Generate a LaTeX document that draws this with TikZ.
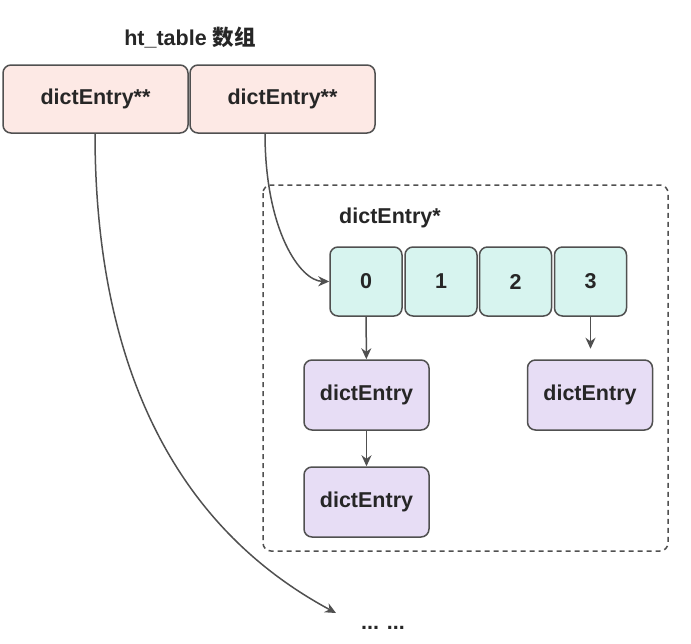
\documentclass[tikz,border=0pt]{standalone}
\usepackage{fontspec}
\setmainfont{Liberation Sans}
\newfontfamily\cjk{Noto Sans CJK SC}
\usetikzlibrary{arrows.meta}
\definecolor{pinkfill}{HTML}{FDE9E5}
\definecolor{cyanfill}{HTML}{D7F4EF}
\definecolor{purplefill}{HTML}{E7DDF5}
\definecolor{linegray}{HTML}{505050}
\tikzset{
    bigfont/.style={font=\fontsize{21.5}{25}\selectfont\bfseries,text=black!85},
    box/.style={draw=linegray,line width=1.5pt,rounded corners=8pt,inner sep=0pt,bigfont},
    ptrbox/.style={box,fill=pinkfill,minimum width=185pt,minimum height=68pt},
    slotbox/.style={box,fill=cyanfill,minimum width=72pt,minimum height=69pt},
    entrybox/.style={box,fill=purplefill,minimum width=125pt,minimum height=70pt},
    arr/.style={-{Stealth[length=11pt,width=10pt]},line width=1.5pt,draw=linegray}
}
\begin{document}
\begin{tikzpicture}[x=1pt,y=-1pt]
    \useasboundingbox (0,0) rectangle (691,643);

    % ht_table array
    \node[bigfont] (title) at (190,38) {ht\_table {\cjk 数组}};
    \node[ptrbox] (p0) at (95.5,99) {dictEntry**};
    \node[ptrbox] (p1) at (282.5,99) {dictEntry**};

    % bucket area
    \draw[linegray,line width=1.5pt,dash pattern=on 5pt off 4pt,rounded corners=8pt] (263,185) rectangle (668,551);
    \node[bigfont] (lbl) at (390,218) {dictEntry*};
    \node[slotbox] (s0) at (366,281.5) {0};
    \node[slotbox] (s1) at (441,281.5) {1};
    \node[slotbox] (s2) at (515.5,281.5) {2};
    \node[slotbox] (s3) at (590.5,281.5) {3};

    \node[entrybox] (e0) at (366.5,395) {dictEntry};
    \node[entrybox] (e1) at (366.5,502) {dictEntry};
    \node[entrybox] (e3) at (590,395) {dictEntry};

    \draw[arr] (s0) -- (e0);
    \draw[arr] (e0) -- (e1);
    \draw[arr] (s3.south) -- ++(0,32);
    \draw[arr] (265,133) .. controls (265,230) and (300,281) .. (s0.west);

    % rest of the buckets
    \node[bigfont] (more) at (383,628) {... ...};
    \coordinate (moreend) at (336,613);
    \draw[arr] (95,133) .. controls (95,400) and (200,540) .. (moreend);
\end{tikzpicture}
\end{document}
